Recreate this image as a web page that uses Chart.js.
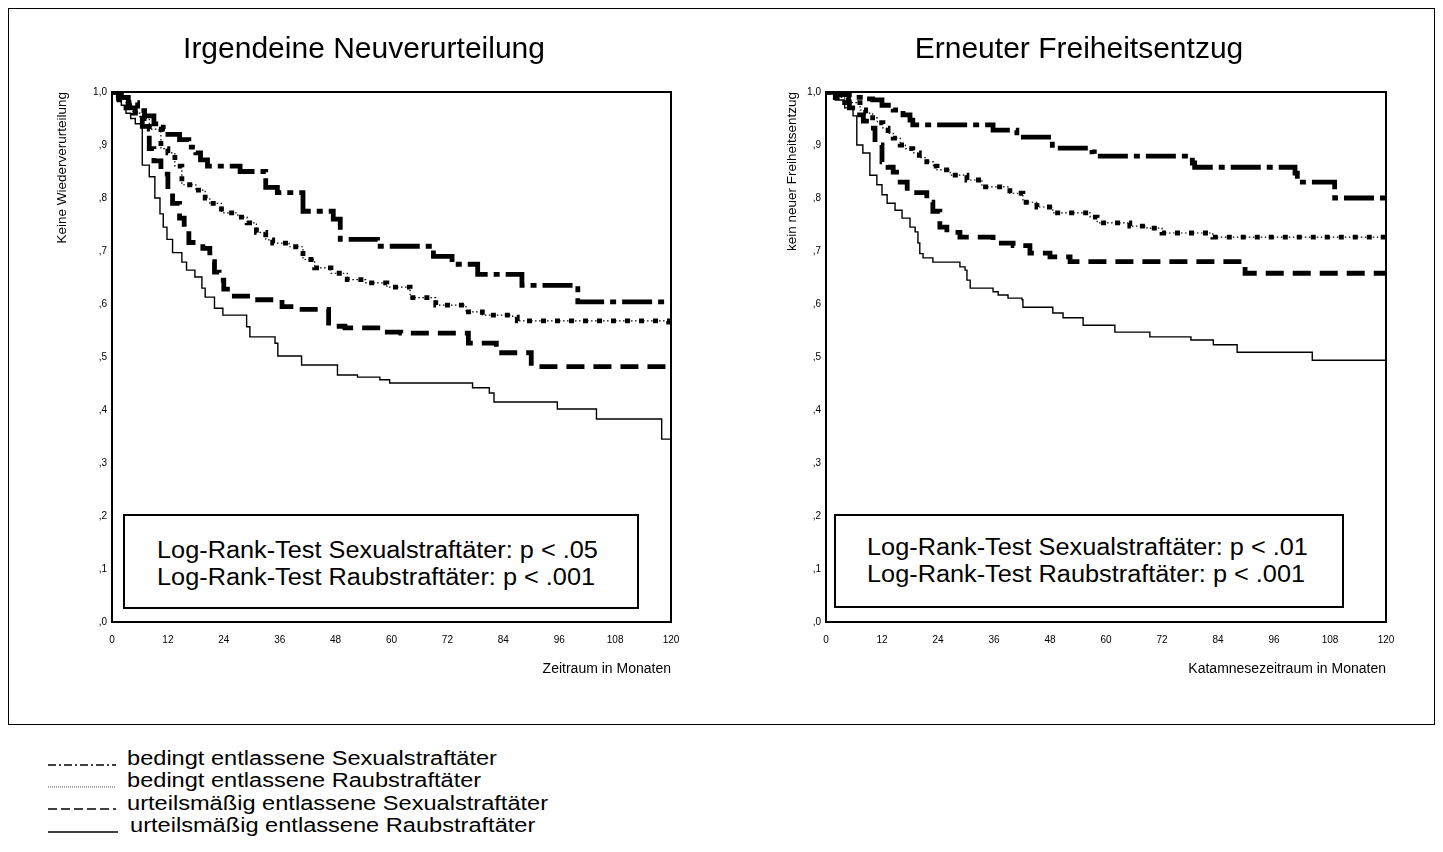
<!DOCTYPE html>
<html>
<head>
<meta charset="utf-8">
<script src="https://cdn.jsdelivr.net/npm/chart.js@4"></script>
<style>
  html, body { margin:0; padding:0; background:#fff; }
  body { width:1443px; height:852px; position:relative; overflow:hidden; font-family:"Liberation Sans", Arial, sans-serif; color:#000; }
  .abs { position:absolute; }
  #frame { left:8px; top:8px; width:1425px; height:715px; border:1.5px solid #000; }
  .title { font-size:30px; line-height:34px; white-space:nowrap; transform:translateX(-50%); }
  .stat { border:2px solid #000; background:#fff; }
  .statline { font-size:23px; line-height:26px; white-space:nowrap; transform-origin:0 50%; transform:scaleX(1.1); }
  .legtxt { font-size:20px; line-height:23px; white-space:nowrap; left:127px; transform-origin:0 50%; transform:scaleX(1.18); }
  svg.legline { position:absolute; left:46px; width:76px; height:6px; overflow:visible; }
  canvas { position:absolute; top:0; }
</style>
</head>
<body>
<div id="frame" class="abs"></div>
<canvas id="c1" width="720" height="720" style="left:0px"></canvas>
<canvas id="c2" width="720" height="720" style="left:720px"></canvas>

<div class="abs title" style="left:364px; top:31px;">Irgendeine Neuverurteilung</div>
<div class="abs title" style="left:1079px; top:31px;">Erneuter Freiheitsentzug</div>

<div class="abs stat" style="left:123px; top:514px; width:512px; height:91px;"></div>
<div class="abs statline" style="left:157px; top:537px;">Log-Rank-Test Sexualstraftäter: p &lt; .05</div>
<div class="abs statline" style="left:157px; top:564px;">Log-Rank-Test Raubstraftäter: p &lt; .001</div>

<div class="abs stat" style="left:834px; top:514px; width:506px; height:90px;"></div>
<div class="abs statline" style="left:867px; top:534px;">Log-Rank-Test Sexualstraftäter: p &lt; .01</div>
<div class="abs statline" style="left:867px; top:561px;">Log-Rank-Test Raubstraftäter: p &lt; .001</div>

<svg class="legline" style="top:762px;"><line x1="2" y1="3" x2="70" y2="3" stroke="#000" stroke-width="1.5" stroke-dasharray="8 3 2 3"/></svg>
<svg class="legline" style="top:784px;"><line x1="2" y1="3" x2="70" y2="3" stroke="#555" stroke-width="1" stroke-dasharray="1 1"/></svg>
<svg class="legline" style="top:806px;"><line x1="2" y1="3" x2="70" y2="3" stroke="#000" stroke-width="1.5" stroke-dasharray="9 4"/></svg>
<svg class="legline" style="top:829px;"><line x1="2" y1="3" x2="72" y2="3" stroke="#000" stroke-width="1.5"/></svg>
<div class="abs legtxt" style="top:747px;">bedingt entlassene Sexualstraftäter</div>
<div class="abs legtxt" style="top:769px;">bedingt entlassene Raubstraftäter</div>
<div class="abs legtxt" style="top:792px;">urteilsmäßig entlassene Sexualstraftäter</div>
<div class="abs legtxt" style="top:814px; left:130px;">urteilsmäßig entlassene Raubstraftäter</div>

<script>
// ---- Data: Irgendeine Neuverurteilung (left) ----
const months = [0, 12, 24, 36, 48, 60, 72, 84, 96, 108, 120];
const yTicks = [',0', ',1', ',2', ',3', ',4', ',5', ',6', ',7', ',8', ',9', '1,0'];
const seriesNames = ['bedingt entlassene Sexualstraftäter', 'bedingt entlassene Raubstraftäter', 'urteilsmäßig entlassene Sexualstraftäter', 'urteilsmäßig entlassene Raubstraftäter'];

const leftA_t = [0, 2, 3.5, 5.5, 7, 9, 11, 12, 14.5, 16.5, 18, 19, 20.5, 27.5, 33, 35.5, 41, 47.5, 49, 57, 69, 73, 78.5, 88, 100, 120];
const leftA_s = [1.0, 0.99, 0.98, 0.965, 0.955, 0.94, 0.93, 0.92, 0.91, 0.896, 0.885, 0.872, 0.86, 0.85, 0.82, 0.81, 0.775, 0.76, 0.722, 0.709, 0.69, 0.675, 0.656, 0.635, 0.604, 0.604];

const leftB_t = [0, 1.5, 3, 4.5, 6, 8, 10.5, 12, 13.5, 15, 18, 20, 21, 23.5, 27, 29, 31, 33, 34.5, 38, 41, 43.5, 47, 50.5, 54.5, 59, 64, 69.5, 76, 79.5, 86, 87, 119.5, 120];
const leftB_s = [1.0, 0.99, 0.975, 0.96, 0.95, 0.93, 0.893, 0.885, 0.86, 0.825, 0.815, 0.8, 0.79, 0.772, 0.764, 0.753, 0.735, 0.721, 0.715, 0.708, 0.684, 0.668, 0.658, 0.646, 0.64, 0.632, 0.612, 0.598, 0.585, 0.579, 0.575, 0.568, 0.566, 0.563];

const leftC_t = [0, 1.5, 3, 5, 6.5, 8, 9, 10.5, 12, 13, 14.5, 15.5, 16.5, 19.5, 21, 22, 23, 24, 25.3, 30, 36.5, 40, 46.5, 50, 58, 62, 76.5, 82.5, 90, 120];
const leftC_s = [1.0, 0.985, 0.97, 0.955, 0.935, 0.893, 0.87, 0.845, 0.81, 0.79, 0.762, 0.74, 0.716, 0.705, 0.68, 0.66, 0.645, 0.628, 0.615, 0.608, 0.595, 0.59, 0.558, 0.555, 0.547, 0.545, 0.526, 0.508, 0.482, 0.482];

const leftD_t = [0, 1, 2, 3, 4, 5, 6.5, 8, 9.2, 10.3, 11, 11.8, 13, 15, 16, 17.8, 19.3, 20, 22, 23.8, 28.9, 29.6, 35, 35.6, 40.7, 48.4, 52.7, 57.5, 59.6, 77.4, 81, 82, 95.6, 104, 118, 120];
const leftD_s = [1.0, 0.985, 0.975, 0.96, 0.95, 0.94, 0.862, 0.84, 0.8, 0.77, 0.745, 0.722, 0.697, 0.679, 0.664, 0.651, 0.63, 0.613, 0.592, 0.579, 0.557, 0.538, 0.526, 0.502, 0.485, 0.466, 0.462, 0.457, 0.451, 0.442, 0.432, 0.415, 0.402, 0.383, 0.345, 0.345];

// ---- Data: Erneuter Freiheitsentzug (right) ----
const rightA_t = [0, 3, 5, 8, 10, 12, 14.4, 16.5, 18, 18.6, 35.8, 40.9, 48.5, 57, 57.5, 78.5, 79, 100.5, 101, 109, 120];
const rightA_s = [1.0, 0.995, 0.99, 0.987, 0.985, 0.975, 0.966, 0.957, 0.947, 0.938, 0.928, 0.915, 0.894, 0.887, 0.879, 0.866, 0.858, 0.847, 0.83, 0.8, 0.8];

const rightB_t = [0, 2, 4, 5.5, 7.3, 8.5, 10, 11, 12.2, 13.3, 14.4, 15.9, 17, 18.6, 20, 21.6, 23, 23.8, 26.6, 30.2, 33.4, 39.4, 42.2, 45.2, 48.6, 56.6, 58.1, 65.1, 68.8, 72, 82.9, 120];
const rightB_s = [1.0, 0.99, 0.985, 0.98, 0.966, 0.96, 0.951, 0.942, 0.932, 0.922, 0.913, 0.9, 0.893, 0.885, 0.876, 0.868, 0.86, 0.853, 0.843, 0.834, 0.821, 0.809, 0.792, 0.783, 0.772, 0.764, 0.753, 0.747, 0.743, 0.734, 0.726, 0.726];

const rightC_t = [0, 2, 4, 5, 6.6, 8, 9.4, 10.5, 12, 13.3, 14.4, 15.9, 17.4, 21.6, 22.9, 24.4, 25.9, 28.7, 35.8, 40.1, 43.7, 48, 52.3, 89.8, 120];
const rightC_s = [1.0, 0.99, 0.98, 0.97, 0.957, 0.945, 0.932, 0.9, 0.868, 0.858, 0.849, 0.83, 0.81, 0.792, 0.775, 0.745, 0.735, 0.726, 0.715, 0.71, 0.696, 0.689, 0.68, 0.658, 0.658];

const rightD_t = [0, 2, 4, 5.8, 6.6, 7.9, 9.4, 10.9, 12, 13.1, 14.8, 16.3, 18, 19.1, 19.7, 20.1, 20.8, 22.9, 28.7, 29.8, 30.2, 30.9, 35.8, 36.9, 39, 42, 42.2, 48.6, 50.8, 55.1, 61.9, 69.4, 78.2, 83, 88.1, 104.2, 120];
const rightD_s = [1.0, 0.985, 0.97, 0.955, 0.9, 0.885, 0.843, 0.825, 0.806, 0.79, 0.777, 0.762, 0.745, 0.736, 0.715, 0.695, 0.687, 0.679, 0.67, 0.664, 0.645, 0.63, 0.623, 0.617, 0.611, 0.608, 0.594, 0.583, 0.574, 0.56, 0.547, 0.538, 0.532, 0.523, 0.509, 0.494, 0.494];

// ---- Chart construction ----
const FONT = '"Liberation Sans", Arial, sans-serif';
function pts(t, s) { return t.map((x, i) => ({ x: x, y: s[i] })); }

const frameBox = {
  id: 'frameBox',
  afterDatasetsDraw(chart) {
    const a = chart.chartArea, ctx = chart.ctx;
    ctx.save();
    ctx.strokeStyle = '#000';
    ctx.lineWidth = 2;
    ctx.strokeRect(a.left, a.top, a.right - a.left, a.bottom - a.top);
    ctx.restore();
  }
};

function makeChart(id, A, B, C, D, cfg) {
  const base = { stepped: true, pointRadius: 0, fill: false, borderColor: '#000', tension: 0, borderCapStyle: 'butt' };
  return new Chart(document.getElementById(id), {
    type: 'line',
    data: {
      datasets: [
        Object.assign({}, base, { label: seriesNames[3], data: pts(D[0], D[1]), borderWidth: 1.4 }),
        Object.assign({}, base, { label: seriesNames[2], data: pts(C[0], C[1]), borderWidth: 4.8, borderDash: [18, 9] }),
        Object.assign({}, base, { label: seriesNames[1] + ' (Punkte)', data: pts(B[0], B[1]), borderWidth: 1.2, borderDash: [1.5, 2.5] }),
        Object.assign({}, base, { label: seriesNames[1], data: pts(B[0], B[1]), borderWidth: 4.8, borderDash: [5, 9] }),
        Object.assign({}, base, { label: seriesNames[0], data: pts(A[0], A[1]), borderWidth: 4.8, borderDash: [30, 6, 6, 6] })
      ]
    },
    options: {
      responsive: false,
      animation: false,
      devicePixelRatio: 1,
      layout: { padding: { left: 0, top: 92, right: cfg.padRight, bottom: 42 } },
      plugins: { legend: { display: false }, tooltip: { enabled: false } },
      scales: {
        x: {
          type: 'linear', min: 0, max: 120,
          afterBuildTicks: (s) => { s.ticks = months.map(v => ({ value: v })); },
          afterFit: (s) => { s.height = 56; },
          grid: { display: false, drawTicks: false },
          border: { display: false },
          ticks: { color: '#000', font: { family: FONT, size: 10 }, padding: 12, maxRotation: 0, autoSkip: false },
          title: { display: true, text: cfg.xTitle, align: 'end', color: '#000', font: { family: FONT, size: 14 }, padding: { top: 0, bottom: 0 } }
        },
        y: {
          type: 'linear', min: 0, max: 1,
          afterBuildTicks: (s) => { s.ticks = yTicks.map((t, i) => ({ value: i / 10 })); },
          afterFit: (s) => { s.width = cfg.yWidth; },
          grid: { display: false, drawTicks: false },
          border: { display: false },
          ticks: { color: '#000', font: { family: FONT, size: 10 }, padding: 5, autoSkip: false,
                   callback: (v) => yTicks[Math.round(v * 10)] },
          title: { display: true, text: cfg.yTitle, align: 'end', color: '#000', font: { family: FONT, size: 13.5 }, padding: { top: cfg.yTitlePad, bottom: 0 } }
        }
      }
    },
    plugins: [frameBox]
  });
}

makeChart('c1', [leftA_t, leftA_s], [leftB_t, leftB_s], [leftC_t, leftC_s], [leftD_t, leftD_s],
  { padRight: 49, yWidth: 112, xTitle: 'Zeitraum in Monaten', yTitle: 'Keine Wiederverurteilung', yTitlePad: 54 });
makeChart('c2', [rightA_t, rightA_s], [rightB_t, rightB_s], [rightC_t, rightC_s], [rightD_t, rightD_s],
  { padRight: 54, yWidth: 106, xTitle: 'Katamnesezeitraum in Monaten', yTitle: 'kein neuer Freiheitsentzug', yTitlePad: 64 });
</script>
</body>
</html>
